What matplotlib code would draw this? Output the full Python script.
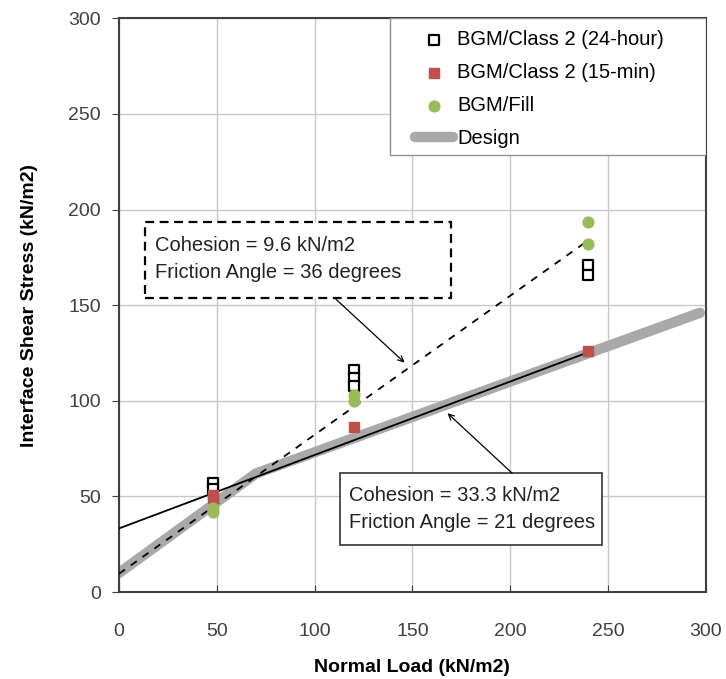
import numpy as np
import matplotlib
matplotlib.use("Agg")
import matplotlib.pyplot as plt
from matplotlib.patches import Rectangle

plt.rcParams['font.family'] = ['Liberation Sans', 'DejaVu Sans']

# data
x_24h = [48, 48, 120, 120, 120, 240, 240]
y_24h = [57, 54, 116, 112, 108, 171, 166]
x_15m = [48, 48, 120, 240]
y_15m = [51, 49, 86.5, 126]
x_fill = [48, 48, 120, 120, 240, 240]
y_fill = [44, 42, 103, 100, 193.5, 182]
x_design = [0, 70, 297]
y_design = [10, 62, 146]

c_dash, phi_dash = 9.6, 36
c_solid, phi_solid = 33.3, 21
x_fit = np.array([0, 240])

fig = plt.figure(figsize=(7.26, 6.79), dpi=100)
ax = fig.add_axes([0.164, 0.128, 0.808, 0.845])

ax.plot(x_design, y_design, color='#a9a9a9', lw=7.5, solid_capstyle='round',
        label='Design', zorder=2)
ax.plot(x_fit, c_solid + np.tan(np.radians(phi_solid)) * x_fit, color='black',
        lw=1.3, zorder=3)
ax.plot(x_fit, c_dash + np.tan(np.radians(phi_dash)) * x_fit, color='black',
        lw=1.3, ls=(0, (4, 4)), zorder=3)

ax.scatter(x_24h, y_24h, marker='s', s=50, facecolors='white', edgecolors='black',
           linewidths=1.6, label='BGM/Class 2 (24-hour)', zorder=4)
ax.scatter(x_15m, y_15m, marker='s', s=60, color='#c0504d',
           label='BGM/Class 2 (15-min)', zorder=5)
ax.scatter(x_fill, y_fill, marker='o', s=60, color='#9bbb59',
           label='BGM/Fill', zorder=5)

ax.set_xlim(0, 300)
ax.set_ylim(0, 300)
ax.set_xticks(range(0, 301, 50))
ax.set_yticks(range(0, 301, 50))
ax.grid(True, color='#c8c8c8', lw=1)
ax.set_axisbelow(True)
for s in ax.spines.values():
    s.set_color('#404040')
    s.set_linewidth(1.5)
ax.tick_params(axis='x', direction='in', length=5, pad=22, labelsize=14, colors='#404040')
ax.tick_params(axis='y', direction='out', length=5, pad=8, labelsize=14, colors='#404040')
ax.set_xlabel('Normal Load (kN/m2)', fontsize=14, fontweight='bold', labelpad=14)
ax.set_ylabel('Interface Shear Stress (kN/m2)', fontsize=14, fontweight='bold', labelpad=22)

# legend: frame drawn separately so it can be wider than the entries
ax.add_patch(Rectangle((0.462, 0.761), 0.538, 0.239, transform=ax.transAxes,
                       fc='white', ec='#909090', lw=1, zorder=8))
handles, labels = ax.get_legend_handles_labels()
order = [1, 2, 3, 0]
leg = ax.legend([handles[i] for i in order], [labels[i] for i in order],
                loc='upper left', bbox_to_anchor=(0.504, 0.98), fontsize=14.5,
                frameon=False, borderaxespad=0, borderpad=0, handlelength=1.9,
                handletextpad=0.2, labelspacing=0.7)
leg.set_zorder(9)

# dashed-fit label box
ax.add_patch(Rectangle((13.3, 154), 156.7, 39.5, fc='white', ec='black',
                       ls=(0, (4, 2.5)), lw=1.6, zorder=6))
ax.text(18.4, 174, 'Cohesion = 9.6 kN/m2\nFriction Angle = 36 degrees',
        fontsize=14.5, linespacing=1.55, color='#222222', va='center', ha='left', zorder=7)
ax.annotate('', xy=(146, 120), xytext=(110, 154),
            arrowprops=dict(arrowstyle='->', color='black', lw=0.9, shrinkA=0, shrinkB=0),
            zorder=6)

# solid-fit label box
ax.add_patch(Rectangle((113, 24.6), 134, 37.6, fc='white', ec='#333333',
                       lw=1.2, zorder=6))
ax.text(117.5, 43.5, 'Cohesion = 33.3 kN/m2\nFriction Angle = 21 degrees',
        fontsize=14.5, linespacing=1.55, color='#222222', va='center', ha='left', zorder=7)
ax.annotate('', xy=(168, 93.5), xytext=(201, 62.2),
            arrowprops=dict(arrowstyle='->', color='black', lw=0.9, shrinkA=0, shrinkB=0),
            zorder=6)

fig.savefig('out.png', dpi=100)
